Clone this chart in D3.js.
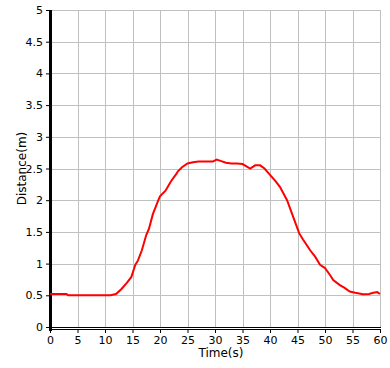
<!DOCTYPE html>
<html><head><meta charset="utf-8">
<script src="https://cdn.jsdelivr.net/npm/d3@7"></script>
<style>body{margin:0;background:#fff}svg{display:block}text{font-family:"DejaVu Sans",Verdana,sans-serif}</style>
</head><body>
<svg id="c" width="390" height="368"></svg>
<script>
const time = [0,1,2,3,3.3,5,7,9,11,12,13,14,14.8,15.5,16,16.7,17.5,18,18.7,19.7,20,21,22,23,23.3,24,25,26,27,28,29,29.6,30.3,31,32,33,34,35,35.8,36.4,37.3,38.2,39,40,41,41.8,43.1,44.2,45.3,46,46.7,47.3,48.2,49.1,50,50.9,51.5,52.7,53.5,54.5,55.5,56.9,58,58.8,59.5,60];
const distance = [0.52,0.52,0.52,0.52,0.50,0.50,0.50,0.50,0.50,0.52,0.60,0.70,0.79,0.98,1.05,1.21,1.45,1.55,1.78,2.0,2.06,2.15,2.30,2.42,2.46,2.52,2.58,2.60,2.61,2.61,2.61,2.61,2.64,2.62,2.59,2.58,2.58,2.57,2.53,2.50,2.55,2.55,2.50,2.40,2.30,2.21,2.0,1.74,1.48,1.38,1.29,1.21,1.11,0.98,0.93,0.82,0.74,0.66,0.62,0.56,0.54,0.515,0.52,0.54,0.55,0.52];
const xTicks = [0,5,10,15,20,25,30,35,40,45,50,55,60];
const yTicks = [0,0.5,1,1.5,2,2.5,3,3.5,4,4.5,5];
const xLabel = "Time(s)", yLabel = "Distance(m)";

const svg = d3.select("#c");
const L = 50, R = 380, T = 10, B = 327;
const x = d3.scaleLinear().domain([0,60]).range([L,R]);
const y = d3.scaleLinear().domain([0,5]).range([B,T]);

// grid
svg.append("g").selectAll("line").data(xTicks.slice(1)).join("line")
  .attr("x1",d=>Math.round(x(d))+0.5).attr("x2",d=>Math.round(x(d))+0.5)
  .attr("y1",T).attr("y2",B).attr("stroke","#c0c0c0").attr("stroke-width",1);
svg.append("g").selectAll("line").data(yTicks.slice(1)).join("line")
  .attr("x1",L).attr("x2",R+1).attr("y1",d=>Math.round(y(d))+0.5).attr("y2",d=>Math.round(y(d))+0.5)
  .attr("stroke","#c0c0c0").attr("stroke-width",1);

// x axis
const xa = svg.append("g").attr("transform",`translate(0,${B+2})`)
  .call(d3.axisBottom(x).tickValues(xTicks).tickSize(4).tickPadding(3).tickFormat(d3.format("d")));
xa.select(".domain").remove();
xa.selectAll("text").attr("font-size",11).attr("fill","#000").attr("font-family","DejaVu Sans, sans-serif");
svg.append("line").attr("x1",L).attr("x2",R+1).attr("y1",B+0.5).attr("y2",B+0.5).attr("stroke","#000");
svg.append("line").attr("x1",L).attr("x2",R+1).attr("y1",B+2.5).attr("y2",B+2.5).attr("stroke","#000");

// y axis
const ya = svg.append("g").attr("transform",`translate(${L},0)`)
  .call(d3.axisLeft(y).tickValues(yTicks).tickSize(4).tickPadding(3).tickFormat(d=>String(d)));
ya.select(".domain").remove();
ya.selectAll("text").attr("font-size",11).attr("fill","#000").attr("font-family","DejaVu Sans, sans-serif");
svg.append("line").attr("x1",L+0.5).attr("x2",L+0.5).attr("y1",T).attr("y2",B+4).attr("stroke","#000").attr("stroke-width",3);

// labels
svg.append("text").attr("x",221).attr("y",357).attr("text-anchor","middle").attr("font-size",12).text(xLabel);
svg.append("text").attr("transform",`translate(26,${(T+B)/2}) rotate(-90)`).attr("text-anchor","middle").attr("font-size",12).text(yLabel);

// line
const pts = time.map((t,i)=>[t,distance[i]]);
svg.append("path").datum(pts).attr("fill","none").attr("stroke","#ff0000").attr("stroke-width",2)
  .attr("d",d3.line().x(d=>x(d[0])).y(d=>y(d[1])));
</script>
</body></html>
